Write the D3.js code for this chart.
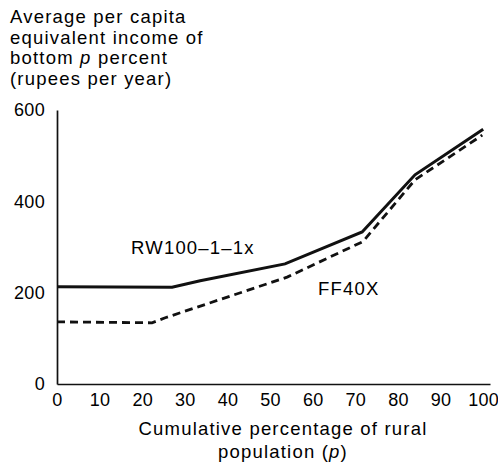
<!DOCTYPE html>
<html>
<head>
<meta charset="utf-8">
<script src="https://cdn.jsdelivr.net/npm/d3@7"></script>
<style>
	body { margin: 0; background: #fff; }
	svg { display: block; font-family: "Liberation Sans", Arial, Helvetica, sans-serif; }
	.lbl { font-size: 18.5px; letter-spacing: 1.2px; fill: #000; }
	.tick text { font-size: 18px; letter-spacing: 0.3px; fill: #000; }
</style>
</head>
<body>
<svg id="chart" width="498" height="469"></svg>
<script>
// values
const pRW = [0, 27, 33.6, 53.5, 71.6, 84, 100];
const incomeRW = [213, 212, 226, 263, 333, 458, 558];
const pFF = [0, 22.3, 25.4, 54, 71.8, 84, 99.8];
const incomeFF = [136, 134, 145, 234, 312, 447, 545];

const xTicks = [0, 10, 20, 30, 40, 50, 60, 70, 80, 90, 100];
const yTicks = [0, 200, 400, 600];

const titleLines = ["Average per capita", "equivalent income of", "bottom |p| percent", "(rupees per year)"];
const xTitleLines = ["Cumulative percentage of rural", "population (|p|)"];

const svg = d3.select("#chart");

const xScale = d3.scaleLinear().domain([0, 101.6]).range([57, 490]);
const yScale = d3.scaleLinear().domain([0, 600]).range([384, 110]);

// axes, no tick marks
const xAxis = svg.append("g")
	.attr("transform", "translate(0," + yScale(0) + ")")
	.call(d3.axisBottom(xScale).tickValues(xTicks).tickSize(0).tickPadding(9));
const yAxis = svg.append("g")
	.attr("transform", "translate(" + xScale(0) + ",0)")
	.call(d3.axisLeft(yScale).tickValues(yTicks).tickSize(0).tickPadding(12));

[xAxis, yAxis].forEach(function(ax) {
	ax.select(".domain").attr("stroke", "#111").attr("stroke-width", 1.7);
	ax.selectAll("text").attr("font-family", null).attr("font-size", null);
});

const line = d3.line()
	.x(d => xScale(d[0]))
	.y(d => yScale(d[1]));

svg.append("path")
	.datum(d3.zip(pFF, incomeFF))
	.attr("d", line)
	.attr("fill", "none")
	.attr("stroke", "#111")
	.attr("stroke-width", 2.8)
	.attr("stroke-dasharray", "8,5");

svg.append("path")
	.datum(d3.zip(pRW, incomeRW))
	.attr("d", line)
	.attr("fill", "none")
	.attr("stroke", "#111")
	.attr("stroke-width", 3);

// text with |x| marking italic parts
function richText(sel, str) {
	str.split("|").forEach(function(part, i) {
		if (!part) return;
		sel.append("tspan").text(part).attr("font-style", i % 2 ? "italic" : null);
	});
}

titleLines.forEach(function(t, i) {
	richText(svg.append("text").attr("class", "lbl").attr("x", 10).attr("y", 23 + i * 20.7), t);
});

xTitleLines.forEach(function(t, i) {
	richText(svg.append("text").attr("class", "lbl")
		.attr("x", 283).attr("y", 435 + i * 23)
		.attr("text-anchor", "middle"), t);
});

svg.append("text").attr("class", "lbl").attr("x", 131).attr("y", 254).text("RW100\u20131\u20131x");
svg.append("text").attr("class", "lbl").attr("x", 318).attr("y", 295).text("FF40X");
</script>
</body>
</html>
